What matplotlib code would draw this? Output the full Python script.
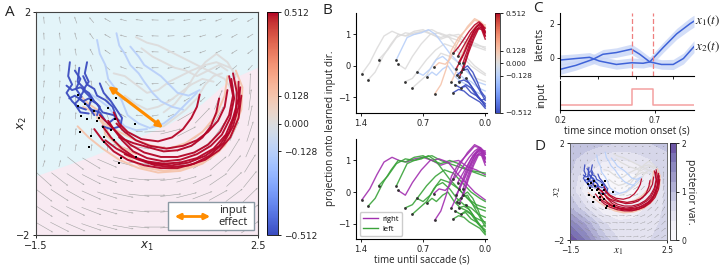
import numpy as np
import matplotlib
matplotlib.use("Agg")
import matplotlib.pyplot as plt
from matplotlib.colors import Normalize
from matplotlib.cm import ScalarMappable
from matplotlib.lines import Line2D
from matplotlib.patches import Polygon, Rectangle

plt.rcParams['font.family'] = ['Open Sans', 'DejaVu Sans']
plt.rcParams['axes.linewidth'] = 0.8

# ------------------------------------------------------------------ data
coh_ticks = [-0.512, -0.128, 0.0, 0.128, 0.512]
coh_ticklabels = ['\u22120.512', '\u22120.128', '0.000', '0.128', '0.512']

# latent trajectories (x1, x2) for each motion coherence (panels A and D)
traj_darkblue = [
    [(-0.89, 1.10), (-0.92, 0.85), (-0.85, 0.70), (-0.95, 0.55), (-0.85, 0.40), (-0.75, 0.30), (-0.60, 0.25)],
    [(-0.58, 1.10), (-0.62, 0.90), (-0.55, 0.75), (-0.65, 0.60), (-0.50, 0.45), (-0.55, 0.30), (-0.45, 0.15)],
    [(-0.35, 0.72), (-0.28, 0.55), (-0.15, 0.40), (-0.05, 0.25), (0.05, 0.10), (0.02, -0.05), (-0.15, -0.10), (-0.30, -0.05)],
    [(-0.80, 0.95), (-0.70, 0.80), (-0.78, 0.62), (-0.68, 0.48), (-0.80, 0.35), (-0.70, 0.20), (-0.55, 0.18)],
    [(-0.95, 0.68), (-0.85, 0.60), (-0.70, 0.65), (-0.55, 0.55), (-0.45, 0.40), (-0.35, 0.30), (-0.40, 0.15)],
    [(-0.72, 1.00), (-0.75, 0.75), (-0.62, 0.62), (-0.72, 0.45), (-0.60, 0.35), (-0.50, 0.25), (-0.35, 0.20), (-0.25, 0.05)],
    [(-0.90, 0.45), (-0.80, 0.50), (-0.65, 0.40), (-0.55, 0.45), (-0.40, 0.35), (-0.30, 0.20), (-0.10, 0.15), (0.00, 0.05)],
    [(-0.65, 0.85), (-0.58, 0.70), (-0.45, 0.62), (-0.40, 0.50), (-0.25, 0.42), (-0.12, 0.30), (-0.05, 0.12), (-0.20, 0.00)],
]
traj_lightblue = [
    [(-0.40, 1.50), (-0.35, 1.25), (-0.25, 1.05), (-0.20, 0.80), (-0.05, 0.60), (0.05, 0.40), (0.15, 0.15), (0.35, 0.00), (0.55, -0.08), (0.80, 0.00), (1.00, 0.15), (1.20, 0.35), (1.40, 0.55)],
    [(-0.05, 1.62), (0.00, 1.40), (0.10, 1.25), (0.20, 1.05), (0.35, 0.90), (0.45, 0.75), (0.60, 0.55), (0.75, 0.40), (0.95, 0.30), (1.15, 0.25)],
    [(0.20, 1.38), (0.35, 1.20), (0.45, 1.05), (0.60, 0.95), (0.75, 0.85), (0.90, 0.70), (1.05, 0.55), (1.25, 0.50), (1.45, 0.60)],
    [(-0.55, 0.55), (-0.40, 0.45), (-0.20, 0.30), (-0.05, 0.10), (0.10, -0.05), (0.30, -0.12), (0.50, -0.10)],
]
traj_gray = [
    [(0.30, 1.55), (0.50, 1.45), (0.70, 1.40), (0.90, 1.30), (1.10, 1.20), (1.30, 1.10), (1.50, 1.00), (1.70, 0.90), (1.90, 0.80), (2.00, 0.65)],
    [(0.40, 1.35), (0.60, 1.20), (0.80, 1.10), (1.00, 1.00), (1.20, 0.95), (1.40, 0.85), (1.60, 0.95), (1.80, 1.05), (1.95, 0.95)],
    [(0.60, -0.05), (0.80, -0.05), (1.00, 0.10), (1.20, 0.25), (1.40, 0.45), (1.55, 0.70), (1.70, 0.85), (1.85, 0.90)],
    [(0.10, 0.50), (0.30, 0.35), (0.50, 0.25), (0.70, 0.30), (0.90, 0.40), (1.10, 0.55), (1.30, 0.70), (1.50, 0.80), (1.70, 0.75)],
    [(-0.10, 0.90), (0.10, 0.85), (0.30, 0.70), (0.50, 0.55), (0.70, 0.60), (0.90, 0.75), (1.10, 0.85), (1.30, 0.95), (1.55, 1.05), (1.75, 1.10), (2.00, 1.00)],
    [(0.80, 0.20), (1.00, 0.35), (1.20, 0.60), (1.35, 0.85), (1.55, 1.10), (1.75, 1.25), (1.95, 1.10), (2.10, 0.85)],
]
traj_salmon = [
    [(-0.65, 0.30), (-0.45, 0.20), (-0.30, 0.00), (-0.15, -0.25), (0.10, -0.55), (0.40, -0.78), (0.80, -0.85), (1.20, -0.80), (1.60, -0.65), (1.90, -0.40), (2.10, -0.05), (2.18, 0.35), (2.10, 0.75)],
    [(-0.75, -0.05), (-0.55, -0.25), (-0.30, -0.45), (0.00, -0.65), (0.35, -0.80), (0.70, -0.88), (1.10, -0.85), (1.50, -0.72), (1.80, -0.50), (2.05, -0.15), (2.20, 0.25), (2.22, 0.65), (2.10, 0.95)],
    [(-0.40, 0.10), (-0.20, -0.05), (0.00, -0.15), (0.30, -0.30), (0.60, -0.40), (0.90, -0.45), (1.20, -0.35), (1.50, -0.15), (1.75, 0.15), (1.90, 0.50), (1.95, 0.85)],
    [(-0.70, 0.50), (-0.55, 0.35), (-0.40, 0.25), (-0.30, 0.05), (-0.25, -0.20), (0.00, -0.40), (0.30, -0.55)],
]
traj_red = [
    [(-0.20, 0.05), (-0.10, -0.10), (0.05, -0.30), (0.25, -0.50), (0.50, -0.62), (0.80, -0.68), (1.10, -0.65), (1.40, -0.55), (1.65, -0.40), (1.85, -0.20), (2.00, 0.10), (2.07, 0.45), (2.02, 0.80)],
    [(-0.30, -0.05), (-0.15, -0.25), (0.05, -0.45), (0.30, -0.62), (0.60, -0.72), (0.95, -0.75), (1.25, -0.70), (1.55, -0.58), (1.80, -0.40), (1.98, -0.15), (2.10, 0.20), (2.12, 0.55), (2.05, 0.90)],
    [(-0.05, 0.00), (0.10, -0.15), (0.30, -0.30), (0.55, -0.40), (0.85, -0.45), (1.15, -0.40), (1.40, -0.30), (1.60, -0.15), (1.78, 0.05), (1.90, 0.30), (1.95, 0.60)],
    [(-0.25, -0.30), (-0.05, -0.45), (0.20, -0.58), (0.50, -0.68), (0.80, -0.72), (1.10, -0.70), (1.40, -0.62), (1.70, -0.45), (1.92, -0.20), (2.05, 0.10), (2.15, 0.45), (2.15, 0.75)],
    [(0.00, -0.25), (0.25, -0.35), (0.50, -0.42), (0.80, -0.50), (1.05, -0.48), (1.30, -0.40), (1.50, -0.25), (1.65, -0.05), (1.75, 0.20), (1.80, 0.45)],
    [(-0.35, 0.15), (-0.20, 0.00), (0.00, -0.20), (0.20, -0.38), (0.45, -0.52), (0.75, -0.60), (1.05, -0.60), (1.35, -0.52), (1.60, -0.38), (1.82, -0.15), (1.98, 0.15), (2.05, 0.50), (1.98, 0.85)],
    [(0.10, -0.55), (0.35, -0.65), (0.65, -0.75), (0.95, -0.78), (1.25, -0.75), (1.55, -0.65), (1.80, -0.48), (2.00, -0.25), (2.15, 0.10), (2.20, 0.50)],
    [(-0.45, -0.10), (-0.30, -0.30), (-0.10, -0.50), (0.15, -0.65), (0.45, -0.75), (0.75, -0.80), (1.05, -0.80), (1.35, -0.72), (1.62, -0.58), (1.88, -0.35), (2.05, -0.05), (2.15, 0.30), (2.18, 0.65)],
    [(-0.10, 0.20), (0.00, 0.00), (0.15, -0.15), (0.40, -0.28), (0.70, -0.32), (0.95, -0.25), (1.15, -0.10), (1.30, 0.10), (1.40, 0.30), (1.45, 0.52)],
]
traj_groups = [(traj_gray, 0.0), (traj_lightblue, -0.128), (traj_salmon, 0.128),
               (traj_darkblue, -0.512), (traj_red, 0.512)]

# trial start points in latent space
dots_x1 = [-0.75, -0.74, -0.50, -0.69, -0.58, -0.36, -0.29, -0.08, -0.05, -0.71, -0.50, -0.27,
           -0.54, -0.28, 0.28, 0.31, 0.04, 0.00, -0.10, -0.45, -0.62, -0.20, -0.40, -0.15]
dots_x2 = [0.52, 0.31, 0.43, 0.14, 0.08, 0.10, -0.06, 0.08, 0.45, -0.15, -0.22, -0.24,
           -0.42, -0.33, 0.00, -0.60, -0.61, -0.70, -0.30, 0.22, 0.35, 0.28, 0.05, -0.12]

# input-effect direction (panel A)
input_effect_start = (-0.20, 0.67)
input_effect_end = (0.79, -0.08)

# region boundary (cyan above, pink below)
pink_x = [-1.5, -0.5, 0.3, 0.9, 1.5, 2.0, 2.5]
pink_y = [-0.95, -0.60, -0.28, -0.02, 0.35, 0.78, 1.00]

# flow field: arrow angles (deg) on a 14x14 grid, rows from top (x2=2) to bottom
flow_angle_rows = [
    [95, 100, 110, 130, 150, 165, 172, 178, 182, 188, 195, 200, 205, 210],
    [93, 97, 105, 125, 150, 165, 172, 178, 183, 190, 197, 203, 208, 212],
    [90, 95, 100, 118, 145, 163, 172, 178, 185, 192, 200, 207, 212, 218],
    [88, 92, 97, 110, 140, 160, 172, 180, 188, 196, 205, 212, 220, 228],
    [85, 88, 92, 100, 130, 158, 172, 182, 192, 202, 212, 222, 82, 88],
    [82, 85, 88, 95, 120, 155, 172, 185, 197, 210, 222, 68, 76, 83],
    [80, 82, 85, 90, 110, 150, 175, 190, 205, 30, 46, 60, 70, 78],
    [78, 80, 82, 85, 100, 140, 175, 3, 14, 27, 41, 54, 65, 72],
    [75, 77, 80, 82, 90, -17, -8, 2, 12, 23, 35, 47, 58, 66],
    [72, 75, -38, -31, -23, -15, -7, 2, 10, 19, 29, 40, 50, 58],
    [-42, -38, -33, -27, -20, -13, -6, 1, 8, 16, 25, 34, 43, 51],
    [-37, -33, -29, -24, -18, -12, -6, 0, 7, 14, 21, 29, 37, 44],
    [-33, -30, -26, -21, -16, -11, -5, 0, 6, 12, 18, 25, 32, 38],
    [-30, -27, -23, -19, -15, -10, -5, 0, 5, 10, 16, 22, 28, 34],
]
# arrow size class: S = slow (short), L = fast (long)
flow_speed_rows = [
    "SSSSSSSSSSSSSS", "SSSSSSSSSSSSSS", "SSSSSSSSSSSSSS", "SSSSSSSSSSSSSS",
    "SSSSSSSSSSSSLL", "SSSSSSSSSSSLLL", "SSSSSSSSSLLLLL", "SSSSSSSLLLLLLL",
    "SSSSSLLLLLLLLL", "SSLLLLLLLLLLLL", "LLLLLLLLLLLLLL", "LLLLLLLLLLLLLL",
    "LLLLLLLLLLLLLL", "LLLLLLLLLLLLLL",
]
speed_length = {'S': 0.13, 'L': 0.38}

# panel B: projection onto input direction vs time until saccade
b_red = [
    ([0.36, 0.30, 0.24, 0.18, 0.12, 0.07, 0.03, 0.0], [0.40, 0.60, 0.85, 1.10, 1.30, 1.40, 1.30, 1.10]),
    ([0.33, 0.28, 0.22, 0.16, 0.11, 0.06, 0.02, 0.0], [-0.10, 0.15, 0.50, 0.90, 1.20, 1.35, 1.20, 1.05]),
    ([0.30, 0.25, 0.20, 0.14, 0.09, 0.05, 0.0], [0.10, 0.35, 0.70, 1.05, 1.25, 1.30, 0.95]),
    ([0.27, 0.22, 0.17, 0.12, 0.08, 0.04, 0.0], [-0.20, 0.20, 0.65, 1.00, 1.20, 1.15, 0.85]),
    ([0.31, 0.26, 0.21, 0.16, 0.10, 0.06, 0.0], [0.30, 0.55, 0.80, 1.05, 1.25, 1.35, 1.20]),
    ([0.25, 0.20, 0.15, 0.10, 0.06, 0.02, 0.0], [0.10, 0.50, 0.90, 1.15, 1.25, 1.10, 0.95]),
    ([0.29, 0.24, 0.19, 0.13, 0.08, 0.04, 0.0], [-0.35, -0.05, 0.40, 0.85, 1.15, 1.25, 1.05]),
]
b_salmon = [
    ([0.57, 0.50, 0.44, 0.38, 0.30, 0.20, 0.12, 0.06, 0.0], [-0.90, -0.60, -0.10, 0.50, 0.90, 1.20, 1.45, 1.40, 1.20]),
    ([0.58, 0.52, 0.45, 0.40, 0.35, 0.28, 0.20, 0.12, 0.05, 0.0], [-0.05, 0.10, 0.05, 0.20, 0.50, 0.90, 1.25, 1.50, 1.40, 1.25]),
    ([0.38, 0.33, 0.27, 0.20, 0.14, 0.08, 0.0], [-0.50, -0.20, 0.30, 0.80, 1.15, 1.35, 1.30]),
]
b_gray = [
    ([1.39, 1.30, 1.22, 1.14, 1.05, 0.97, 0.88, 0.80, 0.70, 0.60, 0.50, 0.40, 0.30, 0.20, 0.10, 0.0],
     [-0.25, 0.10, 0.55, 0.95, 1.10, 1.00, 0.95, 1.05, 1.10, 1.00, 0.85, 0.95, 1.00, 0.80, 0.70, 0.55]),
    ([1.32, 1.24, 1.15, 1.06, 0.98, 0.90, 0.80, 0.70, 0.60, 0.50, 0.40, 0.30, 0.20, 0.10, 0.0],
     [-0.45, -0.20, 0.30, 0.70, 1.00, 0.95, 1.10, 1.15, 1.00, 0.90, 1.00, 0.90, 0.70, 0.60, 0.50]),
    ([1.20, 1.10, 1.00, 0.90, 0.80, 0.70, 0.60, 0.50, 0.40, 0.30, 0.20, 0.10, 0.0],
     [0.20, 0.50, 0.90, 1.05, 1.00, 1.10, 1.15, 1.00, 0.90, 0.80, 0.70, 0.65, 0.60]),
    ([0.98, 0.90, 0.82, 0.72, 0.62, 0.52, 0.42, 0.32, 0.22, 0.12, 0.0],
     [0.05, -0.10, 0.30, 0.70, 1.00, 1.05, 0.95, 0.60, 0.30, 0.00, -0.25]),
    ([0.90, 0.82, 0.74, 0.66, 0.56, 0.46, 0.36, 0.26, 0.16, 0.06, 0.0],
     [-0.50, -0.40, -0.10, 0.20, 0.50, 0.70, 0.60, 0.30, 0.00, -0.20, -0.30]),
    ([0.82, 0.74, 0.66, 0.58, 0.50, 0.40, 0.30, 0.20, 0.10, 0.0],
     [-0.70, -0.50, -0.30, 0.10, 0.40, 0.30, 0.10, -0.20, -0.40, -0.50]),
]
b_gray_choice = ['right', 'left', 'left', 'right', 'left', 'left']
b_lightblue = [
    ([1.00, 0.94, 0.88, 0.80, 0.72, 0.64, 0.56, 0.48, 0.40, 0.30, 0.20, 0.10, 0.0],
     [0.20, 0.55, 0.90, 1.00, 1.05, 1.15, 1.00, 0.70, 0.40, 0.10, -0.20, -0.50, -0.60]),
    ([0.66, 0.60, 0.55, 0.48, 0.42, 0.35, 0.28, 0.20, 0.12, 0.05, 0.0],
     [-0.35, -0.20, -0.30, -0.10, 0.00, -0.30, -0.50, -0.60, -0.80, -0.90, -0.95]),
    ([0.77, 0.70, 0.62, 0.55, 0.48, 0.40, 0.32, 0.24, 0.16, 0.08, 0.0],
     [-0.20, -0.30, -0.10, 0.20, 0.30, 0.10, -0.20, -0.40, -0.50, -0.70, -0.80]),
]
b_darkblue = [
    ([0.32, 0.26, 0.20, 0.14, 0.08, 0.04, 0.0], [-0.30, -0.15, -0.10, -0.40, -0.70, -0.90, -1.10]),
    ([0.30, 0.24, 0.18, 0.12, 0.07, 0.03, 0.0], [-0.50, -0.45, -0.55, -0.80, -1.00, -1.15, -1.30]),
    ([0.27, 0.22, 0.16, 0.11, 0.06, 0.02, 0.0], [-0.70, -0.60, -0.70, -0.90, -1.05, -1.20, -1.25]),
    ([0.25, 0.20, 0.14, 0.09, 0.05, 0.0], [-0.10, 0.00, -0.20, -0.50, -0.80, -1.00]),
    ([0.34, 0.28, 0.22, 0.16, 0.10, 0.05, 0.0], [-0.60, -0.70, -0.65, -0.85, -0.95, -1.10, -1.05]),
    ([0.22, 0.17, 0.12, 0.08, 0.04, 0.0], [-0.40, -0.60, -0.80, -1.00, -1.10, -1.20]),
    ([0.36, 0.30, 0.24, 0.18, 0.12, 0.06, 0.0], [-0.85, -0.75, -0.80, -0.95, -1.05, -1.15, -1.35]),
]

# panel C: latents and input over time since motion onset
c_t_x1 = [0.2, 0.285, 0.356, 0.409, 0.498, 0.578, 0.64, 0.675, 0.746, 0.817, 0.888, 0.909]
c_x1 = [-0.14, -0.05, 0.02, -0.2, -0.4, -0.3, -0.33, -0.25, 0.6, 1.4, 2.0, 2.15]
c_x1_sd = [0.3, 0.28, 0.28, 0.28, 0.28, 0.28, 0.28, 0.28, 0.3, 0.32, 0.35, 0.35]
c_t_x2 = [0.2, 0.285, 0.374, 0.427, 0.498, 0.578, 0.622, 0.675, 0.737, 0.799, 0.853, 0.909]
c_x2 = [-0.69, -0.45, -0.1, 0.2, 0.3, 0.5, 0.2, -0.25, -0.4, -0.4, -0.05, 0.65]
c_x2_sd = [0.3, 0.28, 0.28, 0.28, 0.28, 0.3, 0.28, 0.28, 0.28, 0.3, 0.32, 0.35]
c_input_t = [0.2, 0.58, 0.58, 0.69, 0.69, 0.909]
c_input_v = [0, 0, 1, 1, 0, 0]
c_pulse_times = [0.58, 0.69]

# panel D: posterior variance on a coarse grid (rows from x2=2 down to x2=-2)
var_x = [-1.5, -0.833, -0.167, 0.5, 1.167, 1.833, 2.5]
var_y = [2.0, 1.333, 0.667, 0.0, -0.667, -1.333, -2.0]
var_rows = [
    [0.95, 0.90, 0.85, 0.80, 0.80, 0.80, 0.85],
    [0.85, 0.70, 0.45, 0.40, 0.45, 0.60, 0.75],
    [0.80, 0.40, 0.12, 0.10, 0.18, 0.40, 0.70],
    [0.75, 0.25, 0.05, 0.05, 0.12, 0.35, 0.65],
    [1.00, 0.60, 0.25, 0.20, 0.30, 0.45, 0.65],
    [1.55, 1.15, 0.65, 0.45, 0.45, 0.55, 0.65],
    [2.00, 1.55, 0.95, 0.60, 0.55, 0.60, 0.70],
]

# ------------------------------------------------------------------ styles
cmap = plt.get_cmap('coolwarm')
norm = Normalize(-0.512, 0.512)
cyan_bg = '#e3f4f9'
pink_bg = '#f8eaf2'
arrow_gray = '#a5a5a5'
orange = '#ff8c00'
purple = '#a22fb0'
green = '#3aa33a'
txt = '#222222'

fig = plt.figure(figsize=(7.2, 2.66), dpi=100)

# grid centres for flow field
edges = np.linspace(-1.5, 2.5, 15)
gx = (edges[:-1] + edges[1:]) / 2
edges_y = np.linspace(2.0, -2.0, 15)
gy = (edges_y[:-1] + edges_y[1:]) / 2
GX, GY = np.meshgrid(gx, gy)
ANG = np.deg2rad(np.array(flow_angle_rows, dtype=float))
LEN = np.array([[speed_length[c] for c in row] for row in flow_speed_rows])
FU = LEN * np.cos(ANG)
FV = LEN * np.sin(ANG)


def style_ticks(ax, size):
    ax.tick_params(labelsize=size, length=2.5, width=0.7, pad=1.5, colors=txt)
    for lab in ax.get_xticklabels() + ax.get_yticklabels():
        lab.set_fontfamily('DejaVu Sans')


def draw_trajs(ax, lw):
    for group, coh in traj_groups:
        col = cmap(norm(coh))
        for tr in group:
            xs = [p[0] for p in tr]
            ys = [p[1] for p in tr]
            ax.plot(xs, ys, color=col, lw=lw, alpha=0.95, solid_capstyle='round',
                    solid_joinstyle='round', zorder=3)


# ------------------------------------------------------------------ panel A
axA = fig.add_axes([0.05, 0.1165, 0.3083, 0.8383])
axA.set_xlim(-1.5, 2.5)
axA.set_ylim(-2, 2)
axA.add_patch(Rectangle((-1.5, -2), 4, 4, facecolor=cyan_bg, edgecolor='none', zorder=0))
pverts = list(zip(pink_x, pink_y)) + [(2.5, -2.0), (-1.5, -2.0)]
axA.add_patch(Polygon(pverts, closed=True, facecolor=pink_bg, edgecolor='none', zorder=0))
axA.quiver(GX, GY, FU, FV, angles='xy', scale_units='xy', scale=1,
           pivot='middle', color=arrow_gray, width=0.0026, headwidth=3, headlength=3.5,
           headaxislength=3, zorder=1)
draw_trajs(axA, 1.4)
axA.scatter(dots_x1, dots_x2, s=4, c='k', marker='s', linewidths=0, zorder=5)
axA.annotate('', xy=input_effect_end, xytext=input_effect_start,
             arrowprops=dict(arrowstyle='<|-|>', color=orange, lw=2.2, mutation_scale=9,
                             shrinkA=0, shrinkB=0), zorder=6)
axA.add_patch(Rectangle((0.595, 0.022), 0.387, 0.126, transform=axA.transAxes,
                        facecolor='white', edgecolor='#8a98a3', lw=1.0, zorder=7))
axA.annotate('', xy=(0.785, 0.083), xytext=(0.625, 0.083), xycoords='axes fraction',
             arrowprops=dict(arrowstyle='<|-|>', color=orange, lw=2.0, mutation_scale=8,
                             shrinkA=0, shrinkB=0), zorder=8)
axA.text(0.886, 0.083, 'input\neffect', transform=axA.transAxes, ha='center', va='center',
         fontsize=8, color=txt, linespacing=1.15, zorder=8)
axA.set_xticks([-1.5, 2.5])
axA.set_xticklabels(['\u22121.5', '2.5'])
axA.set_yticks([-2, 2])
axA.set_yticklabels(['\u22122', '2'])
style_ticks(axA, 7)
axA.set_xlabel('$x_1$', fontsize=8.5, labelpad=-8, color=txt)
axA.set_ylabel('$x_2$', fontsize=8.5, labelpad=-9, color=txt)
for sp in axA.spines.values():
    sp.set_color('#444444')

caxA = fig.add_axes([0.3708, 0.1165, 0.0153, 0.8383])
cbA = fig.colorbar(ScalarMappable(norm=norm, cmap=cmap), cax=caxA, ticks=coh_ticks)
cbA.ax.set_yticklabels(coh_ticklabels)
cbA.outline.set_linewidth(0.6)
style_ticks(cbA.ax, 6.5)

# ------------------------------------------------------------------ panel B


def b_groups():
    out = []
    for t, y in b_gray:
        out.append((t, y, 0.0))
    for t, y in b_lightblue:
        out.append((t, y, -0.128))
    for t, y in b_salmon:
        out.append((t, y, 0.128))
    for t, y in b_darkblue:
        out.append((t, y, -0.512))
    for t, y in b_red:
        out.append((t, y, 0.512))
    return out


def setup_b(ax):
    ax.set_xlim(1.456, -0.02)
    ax.set_ylim(-1.5, 1.68)
    ax.set_xticks([1.4, 0.7, 0.0])
    ax.set_xticklabels(['1.4', '0.7', '0.0'])
    ax.set_yticks([-1, 0, 1])
    ax.set_yticklabels(['\u22121', '0', '1'])
    ax.spines['top'].set_visible(False)
    ax.spines['right'].set_visible(False)
    style_ticks(ax, 6)


axB1 = fig.add_axes([0.4944, 0.5752, 0.182, 0.3759])
axB2 = fig.add_axes([0.4944, 0.1, 0.182, 0.3775])
curves = b_groups()
gi = 0
for t, y, coh in curves:
    axB1.plot(t, y, color=cmap(norm(coh)), lw=1.0, alpha=0.9, zorder=2 + abs(coh))
    if coh == 0.0:
        ch = b_gray_choice[gi]
        gi += 1
    else:
        ch = 'right' if coh > 0 else 'left'
    axB2.plot(t, y, color=purple if ch == 'right' else green, lw=1.0, alpha=0.9, zorder=2)
for ax in (axB1, axB2):
    ax.scatter([c[0][0] for c in curves], [c[1][0] for c in curves], s=4, c='#333333',
               linewidths=0, zorder=6)
    setup_b(ax)
axB2.legend(handles=[Line2D([], [], color=purple, lw=1.0), Line2D([], [], color=green, lw=1.0)],
            labels=['right', 'left'], loc='lower left', fontsize=5.5, handlelength=2.0,
            borderpad=0.4, labelspacing=0.3, handletextpad=0.6, framealpha=1,
            edgecolor='#cccccc', fancybox=True)
axB2.set_xlabel('time until saccade (s)', fontsize=7, labelpad=0.5, color=txt)
fig.text(331 / 720, 1 - 128 / 266, 'projection onto learned input dir.', rotation=90,
         ha='center', va='center', fontsize=7.2, color=txt)

caxB = fig.add_axes([0.6875, 0.5752, 0.0069, 0.3759])
cbB = fig.colorbar(ScalarMappable(norm=norm, cmap=cmap), cax=caxB, ticks=coh_ticks)
cbB.ax.set_yticklabels(coh_ticklabels)
cbB.outline.set_linewidth(0.5)
style_ticks(cbB.ax, 5.2)

# ------------------------------------------------------------------ panel C
axC1 = fig.add_axes([0.7778, 0.7143, 0.1861, 0.2368])
axC2 = fig.add_axes([0.7778, 0.5865, 0.1861, 0.109])
band = '#c9d6f7'
line_blue = '#3f63d8'
axC1.fill_between(c_t_x1, np.array(c_x1) - np.array(c_x1_sd), np.array(c_x1) + np.array(c_x1_sd),
                  color=band, alpha=0.8, lw=0)
axC1.fill_between(c_t_x2, np.array(c_x2) - np.array(c_x2_sd), np.array(c_x2) + np.array(c_x2_sd),
                  color=band, alpha=0.8, lw=0)
axC1.plot(c_t_x1, c_x1, color=line_blue, lw=1.1)
axC1.plot(c_t_x2, c_x2, color=line_blue, lw=1.1)
for tp in c_pulse_times:
    axC1.axvline(tp, color='#ef7f7f', lw=0.9, ls=(0, (4, 2)))
axC1.set_xlim(0.2, 0.909)
axC1.set_ylim(-1.08, 2.63)
axC1.set_yticks([0, 2])
axC1.set_yticklabels(['0', '2'])
axC1.tick_params(axis='x', length=0, labelbottom=False)
axC1.spines['top'].set_visible(False)
axC1.spines['right'].set_visible(False)
style_ticks(axC1, 5.5)
axC1.set_ylabel('latents', fontsize=7.5, labelpad=3, color=txt)
axC1.text(0.915, c_x1[-1], '$x_1(t)$', fontsize=9.5, ha='left', va='center', color=txt,
          math_fontfamily='stix', clip_on=False)
axC1.text(0.915, c_x2[-1], '$x_2(t)$', fontsize=9.5, ha='left', va='center', color=txt,
          math_fontfamily='stix', clip_on=False)

axC2.plot(c_input_t, c_input_v, color='#f4a0a0', lw=1.1)
axC2.set_xlim(0.2, 0.909)
axC2.set_ylim(-0.31, 1.5)
axC2.set_yticks([])
axC2.set_xticks([0.2, 0.7])
axC2.set_xticklabels(['0.2', '0.7'])
axC2.spines['top'].set_visible(False)
axC2.spines['right'].set_visible(False)
style_ticks(axC2, 5.5)
axC2.set_ylabel('input', fontsize=7.5, labelpad=9, color=txt)
axC2.set_xlabel('time since motion onset (s)', fontsize=7.2, labelpad=0.5, color=txt)

# ------------------------------------------------------------------ panel D
axD = fig.add_axes([0.7917, 0.0977, 0.1347, 0.3647])
axD.set_xlim(-1.5, 2.5)
axD.set_ylim(-2, 2)
cf = axD.contourf(var_x, var_y, np.array(var_rows), levels=np.linspace(0, 2, 11),
                  cmap='Purples', vmin=0, vmax=2.6, zorder=0)
axD.quiver(GX, GY, FU * 0.6, FV * 0.6, angles='xy', scale_units='xy', scale=1,
           pivot='middle', color='#8c8c8c', width=0.0035, headwidth=3, headlength=3.5,
           headaxislength=3, zorder=1)
draw_trajs(axD, 0.9)
axD.scatter(dots_x1, dots_x2, s=2, c='k', marker='s', linewidths=0, zorder=5)
axD.set_xticks([-1.5, 2.5])
axD.set_xticklabels(['\u22121.5', '2.5'])
axD.set_yticks([-2, 2])
axD.set_yticklabels(['\u22122', '2'])
style_ticks(axD, 5.5)
axD.set_xlabel('$x_1$', fontsize=8, labelpad=-6, color=txt, math_fontfamily='stix')
axD.set_ylabel('$x_2$', fontsize=8, labelpad=-7, color=txt, math_fontfamily='stix')
for sp in axD.spines.values():
    sp.set_color('#555555')
    sp.set_linewidth(0.6)

caxD = fig.add_axes([0.9306, 0.0977, 0.0083, 0.3647])
cbD = fig.colorbar(cf, cax=caxD, ticks=[0, 1, 2])
cbD.ax.set_yticklabels(['0', '1', '2'])
cbD.outline.set_linewidth(0.5)
style_ticks(cbD.ax, 5.5)
cbD.set_label('posterior var.', rotation=270, fontsize=7.5, labelpad=7, color=txt)

# ------------------------------------------------------------------ panel letters
for letter, x, y in [('A', 5, 12), ('B', 322, 11), ('C', 533, 9), ('D', 534, 146)]:
    fig.text(x / 720, 1 - y / 266, letter, fontsize=11, ha='left', va='center', color=txt)

fig.savefig('out.png', dpi=100)
